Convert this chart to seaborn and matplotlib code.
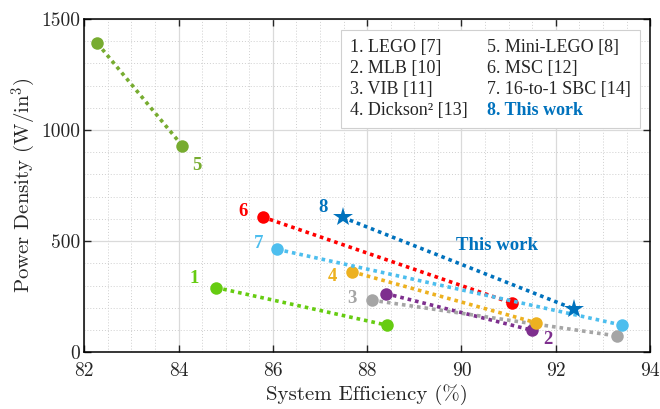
import numpy as np
import pandas as pd
import seaborn as sns
import matplotlib.pyplot as plt
from matplotlib.ticker import MultipleLocator
from matplotlib.lines import Line2D

# data (efficiency %, power density W/in^3)
names = ["1", "2", "3", "4", "5", "6", "7", "8"]
eff_1 = [84.79, 88.41]
pd_1 = [291, 122]
eff_2 = [88.39, 91.49]
pd_2 = [264, 99]
eff_3 = [88.10, 93.29]
pd_3 = [234, 73]
eff_4 = [87.68, 91.59]
pd_4 = [362, 132]
eff_5 = [82.28, 84.08]
pd_5 = [1390, 929]
eff_6 = [85.78, 91.07]
pd_6 = [609, 221]
eff_7 = [86.09, 93.40]
pd_7 = [463, 122]
eff_8 = [87.48, 92.39]
pd_8 = [607, 194]

legend_labels = ["1. LEGO [7]", "2. MLB [10]", "3. VIB [11]", "4. Dickson\u00b2 [13]",
                 "5. Mini-LEGO [8]", "6. MSC [12]", "7. 16-to-1 SBC [14]", "8. This work"]
# number tags next to each series
tag_x = [84.33, 91.84, 87.68, 87.27, 84.38, 85.36, 85.69, 87.07]
tag_y = [332, 59, 242, 342, 840, 634, 490, 652]

colors = ["#66CC11", "#7E2F8E", "#A5A5A5", "#EDB120", "#77AC30", "#FF0000", "#4DBEEE", "#0072BD"]

effs = [eff_1, eff_2, eff_3, eff_4, eff_5, eff_6, eff_7, eff_8]
pds = [pd_1, pd_2, pd_3, pd_4, pd_5, pd_6, pd_7, pd_8]
df = pd.concat([pd.DataFrame({"design": n, "eff": e, "pd": p})
                for n, e, p in zip(names, effs, pds)], ignore_index=True)

sns.set_style("ticks")
plt.rcParams["mathtext.fontset"] = "cm"

fig, ax = plt.subplots(figsize=(6.6, 4.09), dpi=100)
fig.subplots_adjust(left=0.1277, right=0.985, bottom=0.139, top=0.9535)

for i, n in enumerate(names):
    sub = df[df["design"] == n]
    mk = "*" if n == "8" else "o"
    ms = 15 if n == "8" else 9
    sns.lineplot(data=sub, x="eff", y="pd", ax=ax, color=colors[i], marker=mk,
                 markersize=ms, markeredgewidth=0, linewidth=2.6,
                 linestyle=(0, (1, 1.1)), zorder=3)

for i in range(len(names)):
    ax.text(tag_x[i], tag_y[i], names[i], color=colors[i], fontsize=13.5,
            fontweight="bold", family="Liberation Serif", ha="center", va="center")
ax.text(90.75, 482, "This work", color=colors[7], fontsize=13.5, fontweight="bold",
        family="Liberation Serif", ha="center", va="center")

ax.set_xlim(82, 94)
ax.set_ylim(0, 1500)
ax.xaxis.set_major_locator(MultipleLocator(2))
ax.yaxis.set_major_locator(MultipleLocator(500))
ax.xaxis.set_minor_locator(MultipleLocator(0.5))
ax.yaxis.set_minor_locator(MultipleLocator(100))
ax.grid(which="major", color="#DADADA", linewidth=0.9, linestyle="-", zorder=0)
ax.grid(which="minor", color="#CFCFCF", linewidth=0.7, linestyle=(0, (1, 2)), zorder=0)
ax.set_axisbelow(True)
ax.tick_params(which="major", direction="in", length=5, width=1, top=True, right=True,
               labelsize=14)
ax.tick_params(axis="x", pad=7)
ax.tick_params(axis="y", pad=3)
ax.tick_params(which="minor", length=0)
for lab in ax.get_xticklabels() + ax.get_yticklabels():
    lab.set_family("cmr10")
for s in ax.spines.values():
    s.set_color("black")
    s.set_linewidth(1.1)

ax.set_xlabel("System Efficiency (%)", fontsize=15, family="cmr10", labelpad=3)
ax.set_ylabel(r"Power Density (W/in$^3$)", fontsize=15, family="cmr10", labelpad=2)

handles = [Line2D([], [], linestyle="none") for _ in legend_labels]
leg = ax.legend(handles, legend_labels, ncol=2, loc="upper right",
                bbox_to_anchor=(0.982, 0.967), borderaxespad=0, handlelength=0,
                handletextpad=0, columnspacing=1.05, labelspacing=0.22,
                prop={"family": "Liberation Serif", "size": 13},
                frameon=True, fancybox=False, edgecolor="#D0D0D0", framealpha=1,
                borderpad=0.5)
leg.get_frame().set_linewidth(0.8)
last = leg.get_texts()[-1]
last.set_color(colors[7])
last.set_fontweight("bold")

fig.savefig("out.png", dpi=100)
